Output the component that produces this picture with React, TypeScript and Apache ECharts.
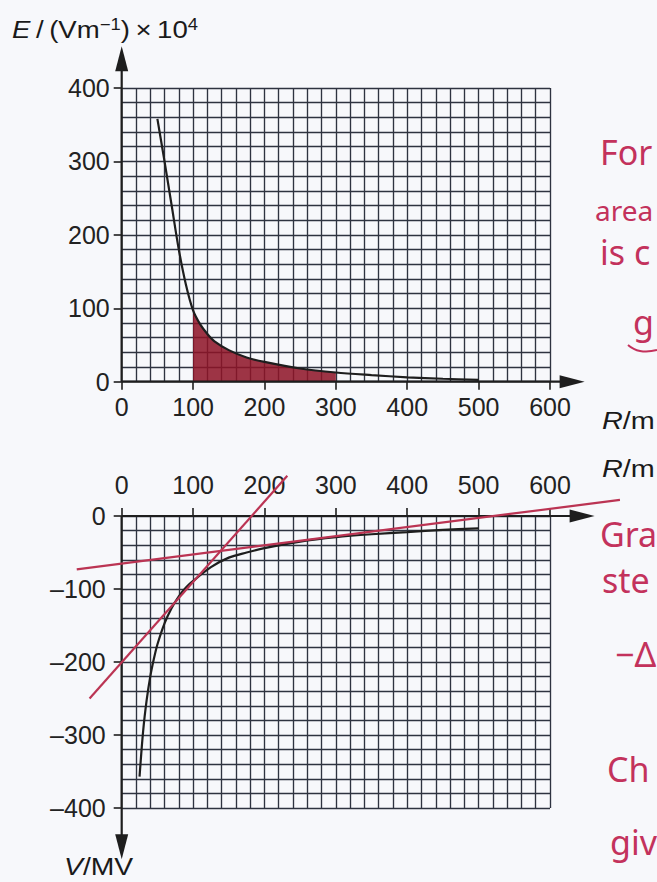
import React, { useEffect, useRef } from "react";
import * as echarts from "echarts";

// ---- data ----
// Top graph: electric field strength E / (V m^-1) x 10^4 against R / mm
const eR = [50, 60, 70, 80, 90, 100, 110, 120, 130, 150, 175, 200, 250, 300, 350, 400, 450, 500];
const eVal = [358, 300, 240, 180, 132, 97, 78, 65, 55, 43, 33, 27, 18, 12.5, 9, 6, 4, 2.5];
// shaded region under the E curve
const shadeFrom = 100;
const shadeTo = 300;
// Bottom graph: potential V / MV against R / mm
const vR = [25, 30, 35, 40, 45, 50, 60, 70, 80, 90, 100, 125, 150, 175, 200, 250, 300, 350, 400, 450, 500];
const vVal = [-357, -295, -252, -220, -196, -176, -147, -126, -110, -98, -89, -70, -57, -50, -44, -35, -29, -25, -22, -19, -17];
// tangent lines drawn by hand (R, V end points)
const tangentSteepR = [-45, 232];
const tangentSteepV = [-250, 55];
const tangentShallowR = [-63, 698];
const tangentShallowV = [-73, 22];
// tick labels
const rTicks = [0, 100, 200, 300, 400, 500, 600];
const eTicks = [0, 100, 200, 300, 400];
const vTicks = [0, -100, -200, -300, -400];
// handwritten notes at the right edge
const notesTop = ["For", "area", "is c", "g"];
const notesBottom = ["Gra", "ste", "\u2212\u0394", "Ch", "giv"];

const FONT = "'Liberation Sans', Arial, Helvetica, sans-serif";
const HAND = "'Noto Sans', 'Open Sans', sans-serif";
const INK = "#1e1e1e";
const RED = "#bb3453";
const PEN = "#c3325c";

const zip = (xs: number[], ys: number[]) => xs.map((x, i) => [x, ys[i]]);

// pixel geometry of the two plotting areas
const PLOT_L = 121.7;
const PLOT_W = 428.3;
const TOP_T = 88;
const TOP_H = 293.7;
const BOT_T = 516;
const BOT_H = 292;
// wider, invisible coordinate frames sharing the same scales (for marks that leave the grid)
const EXT_R = [-80, 720];
const EXT_E = [-60, 460];
const EXT_V = [-480, 100];

export default function App() {
  const ref = useRef<HTMLDivElement>(null);
  useEffect(() => {
    if (!ref.current) return;
    const chart = echarts.init(ref.current, null, { renderer: "svg" });
    const gridLine = { show: true, lineStyle: { color: "#2e3340", width: 1.35 } };
    const fmt = (v: number) => (v < 0 ? "\u2013" + Math.abs(v) : String(v));
    const rMin = rTicks[0];
    const rMax = rTicks[rTicks.length - 1];
    const pxR = PLOT_W / (rMax - rMin);
    const pxE = TOP_H / (Math.max(...eTicks) - Math.min(...eTicks));
    const pxV = BOT_H / (Math.max(...vTicks) - Math.min(...vTicks));
    const extLeft = PLOT_L - (rMin - EXT_R[0]) * pxR;
    const extWidth = (EXT_R[1] - EXT_R[0]) * pxR;
    const labelStyle = { fontSize: 25, fontFamily: FONT, color: "#222", formatter: fmt };
    const mkX = (gridIndex: number, position: string, margin: number) => ({
      type: "value",
      gridIndex,
      position,
      min: rMin,
      max: rMax,
      interval: rTicks[1] - rTicks[0],
      axisLine: { show: false },
      axisTick: { show: true, length: 8, lineStyle: { color: INK, width: 1.6 } },
      axisLabel: { margin, ...labelStyle },
      splitLine: gridLine,
      minorTick: { show: false, splitNumber: 5 },
      minorSplitLine: gridLine,
    });
    const mkY = (gridIndex: number, ticks: number[], margin: number) => ({
      type: "value",
      gridIndex,
      position: "left",
      min: Math.min(...ticks),
      max: Math.max(...ticks),
      interval: 100,
      axisLine: { show: false },
      axisTick: { show: true, length: 8, lineStyle: { color: INK, width: 1.6 } },
      axisLabel: { margin, ...labelStyle },
      splitLine: gridLine,
      minorTick: { show: false, splitNumber: 5 },
      minorSplitLine: gridLine,
    });
    const hidden = (gridIndex: number, min: number, max: number) => ({
      type: "value",
      gridIndex,
      min,
      max,
      show: false,
      splitLine: { show: false },
    });
    const arrowSeries = (gi: number, pts: number[][], rot: number) => ({
      type: "line",
      xAxisIndex: gi,
      yAxisIndex: gi,
      clip: false,
      silent: true,
      z: 6,
      showSymbol: true,
      lineStyle: { color: INK, width: 2.2 },
      itemStyle: { color: INK },
      data: [
        { value: pts[0], symbol: "none" },
        { value: pts[1], symbol: "triangle", symbolSize: [13, 25], symbolRotate: rot },
      ],
    });
    const shade = zip(eR, eVal).filter((p) => p[0] >= shadeFrom && p[0] <= shadeTo);
    const noteText = (text: string, x: number, y: number, size: number) => ({
      type: "text",
      x,
      y,
      silent: true,
      style: { text, fill: PEN, font: `${size}px ${HAND}`, verticalAlign: "middle" },
    });
    const axisName = (text: string, x: number, y: number, sx: number) => ({
      type: "text",
      x,
      y,
      scaleX: sx,
      silent: true,
      style: {
        text,
        font: `24px ${FONT}`,
        fill: "#1a1a1a",
        verticalAlign: "middle",
        rich: {
          i: { fontStyle: "italic", fontSize: 24, fontFamily: FONT, lineHeight: 28, fill: "#1a1a1a" },
          n: { fontSize: 24, fontFamily: FONT, lineHeight: 28, fill: "#1a1a1a" },
          s: { fontSize: 16, fontFamily: FONT, lineHeight: 28, verticalAlign: "top", fill: "#1a1a1a" },
        },
      },
    });
    const topY = [152, 210, 252, 322];
    const topX = [600, 595, 600, 633];
    const botY = [534, 580, 654, 769, 842];
    const botX = [600, 602, 615, 607, 610];
    chart.setOption({
      animation: false,
      backgroundColor: "#f7f8fb",
      grid: [
        { left: PLOT_L, top: TOP_T, width: PLOT_W, height: TOP_H },
        { left: PLOT_L, top: BOT_T, width: PLOT_W, height: BOT_H },
        {
          left: extLeft,
          width: extWidth,
          top: TOP_T - (EXT_E[1] - Math.max(...eTicks)) * pxE,
          height: (EXT_E[1] - EXT_E[0]) * pxE,
        },
        {
          left: extLeft,
          width: extWidth,
          top: BOT_T - (EXT_V[1] - Math.max(...vTicks)) * pxV,
          height: (EXT_V[1] - EXT_V[0]) * pxV,
        },
      ],
      xAxis: [
        mkX(0, "bottom", 13),
        mkX(1, "top", 19),
        hidden(2, EXT_R[0], EXT_R[1]),
        hidden(3, EXT_R[0], EXT_R[1]),
      ],
      yAxis: [
        mkY(0, eTicks, 12),
        mkY(1, vTicks, 16),
        hidden(2, EXT_E[0], EXT_E[1]),
        hidden(3, EXT_V[0], EXT_V[1]),
      ],
      series: [
        {
          type: "line",
          xAxisIndex: 0,
          yAxisIndex: 0,
          data: shade,
          smooth: 0.3,
          showSymbol: false,
          lineStyle: { width: 0 },
          areaStyle: { color: "#8e1426", opacity: 0.86 },
          z: 3,
          silent: true,
        },
        {
          type: "line",
          xAxisIndex: 0,
          yAxisIndex: 0,
          data: zip(eR, eVal),
          smooth: 0.3,
          showSymbol: false,
          lineStyle: { color: INK, width: 2.2 },
          z: 5,
          silent: true,
        },
        arrowSeries(2, [[0, 0], [0, 440]], 0),
        arrowSeries(2, [[0, 0], [631, 0]], -90),
        {
          type: "line",
          xAxisIndex: 1,
          yAxisIndex: 1,
          data: zip(vR, vVal),
          smooth: 0.3,
          showSymbol: false,
          lineStyle: { color: INK, width: 2.2 },
          z: 5,
          silent: true,
        },
        {
          type: "line",
          xAxisIndex: 3,
          yAxisIndex: 3,
          data: zip(tangentSteepR, tangentSteepV),
          clip: false,
          showSymbol: false,
          lineStyle: { color: RED, width: 2.2 },
          z: 7,
          silent: true,
        },
        {
          type: "line",
          xAxisIndex: 3,
          yAxisIndex: 3,
          data: zip(tangentShallowR, tangentShallowV),
          clip: false,
          showSymbol: false,
          lineStyle: { color: RED, width: 2.2 },
          z: 7,
          silent: true,
        },
        arrowSeries(3, [[0, 0], [645, 0]], -90),
        arrowSeries(3, [[0, 0], [0, -453]], 180),
      ],
      graphic: [
        axisName("{i|E}{n|\u2009/\u2009(Vm}{s|\u22121}{n|)\u2009\u00D7\u200910}{s|4}", 12, 30, 1.15),
        axisName("{i|R}{n|/m}", 602, 421, 1.2),
        axisName("{i|R}{n|/m}", 602, 469, 1.2),
        axisName("{i|V}{n|/MV}", 64, 867, 1.18),
        ...notesTop.map((t, i) => noteText(t, topX[i], topY[i], i === 1 ? 28 : 34)),
        {
          type: "polyline",
          silent: true,
          shape: { points: [[628, 345], [640, 351], [657, 350]], smooth: 0.5 },
          style: { stroke: PEN, lineWidth: 2, fill: "none" },
        },
        ...notesBottom.map((t, i) => noteText(t, botX[i], botY[i], 34)),
      ],
    });
    return () => chart.dispose();
  }, []);
  return (
    <div
      ref={ref}
      style={{ position: "fixed", left: 0, top: 0, width: 657, height: 882 }}
    />
  );
}
